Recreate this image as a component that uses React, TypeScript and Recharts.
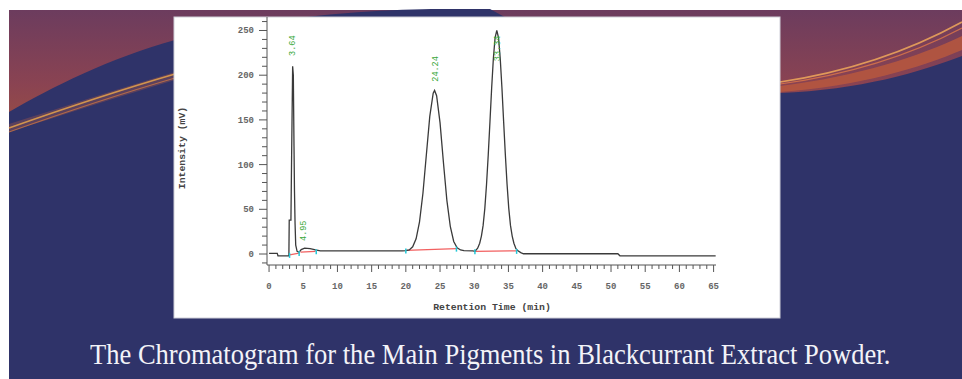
import React from "react";
import {
  ComposedChart,
  Line,
  Scatter,
  XAxis,
  YAxis,
  ReferenceLine,
} from "recharts";

// chromatogram trace: retention time (min) / intensity (mV)
const traceTime = [
  0, 1.2, 1.3, 2.9, 2.95, 3.2, 3.3, 3.45, 3.55, 3.65, 3.72, 3.8, 3.9, 4.1, 4.4, 4.7, 5.2, 6.0, 6.8, 7.5,
  12, 19.5, 20, 20.5, 21, 21.5, 22, 22.5, 23, 23.5, 24, 24.2, 24.5, 25, 25.5, 26, 26.5, 27, 27.5, 28,
  28.5, 29.8, 30.1, 30.5, 30.8, 31.05, 31.3, 31.55, 31.8, 32.05, 32.3, 32.55, 32.8, 33.05, 33.3, 33.55,
  33.8, 34.05, 34.3, 34.55, 34.8, 35.05, 35.3, 35.55, 35.8, 36.1, 36.4, 36.8, 37.2, 42, 51, 51.3, 65.3,
];
const traceValue = [
  0.7, 0.7, -2, -2, 38, 38, 110, 210, 200, 120, 70, 35, 10, 3, 2, 5, 6.5, 6, 4.5, 3.5,
  3.5, 3.5, 3.7, 4.5, 8, 17, 36, 68, 111, 154, 180, 183, 177, 147, 102, 60, 31, 14, 7, 4.5,
  3.7, 3.5, 3, 6.5, 12, 20, 32, 51, 78, 111, 148, 186, 219, 242, 250, 242,
  219, 186, 148, 111, 78, 51, 32, 20, 12, 6, 3.5, 1.5, 0.3, 0.3, 0.3, -2, -2,
];

// integration baselines (red) as [t1, v1, t2, v2]
const baselines = [
  [3.0, -1, 4.4, 1],
  [4.6, 2, 6.8, 3],
  [20.0, 4, 27.4, 6],
  [30.1, 3, 36.2, 3.5],
];

// peak start/end markers (cyan)
const markerTime = [3.0, 4.4, 6.9, 20.0, 27.4, 30.1, 36.2];
const markerValue = [-1, 1, 3, 4, 6, 3, 3.5];

// peak retention labels (green)
const peakTime = [3.4, 4.9, 24.2, 33.4];
const peakLabelY = [233, 26, 207, 230];
const peakLabels = ["3.64", "4.95", "24.24", "33.34"];

const yMajor = [0, 50, 100, 150, 200, 250];
const xMajor = [0, 5, 10, 15, 20, 25, 30, 35, 40, 45, 50, 55, 60, 65];

const yTicks: number[] = [];
for (let v = -10; v <= 260; v += 10) yTicks.push(v);
const xTicks: number[] = [];
for (let t = 0; t <= 65; t += 1) xTicks.push(t);

const trace = traceTime.map((t, i) => ({ t, v: traceValue[i] }));
const markers = markerTime.map((t, i) => ({ t, v: markerValue[i] }));
const peaks = peakTime.map((t, i) => ({ t, v: peakLabelY[i], label: peakLabels[i] }));

const axisFont = "'Liberation Mono', 'DejaVu Sans Mono', monospace";

const YTick = (props: any) => {
  const { x, y, payload } = props;
  const major = yMajor.includes(payload.value);
  return (
    <g>
      <line x1={x - (major ? 8 : 5)} x2={x} y1={y} y2={y} stroke="#555" strokeWidth={1} />
      {major && (
        <text x={x - 13} y={y} dy={3} textAnchor="end" fontSize={9} fontWeight="bold" fontFamily={axisFont} fill="#666">
          {payload.value}
        </text>
      )}
    </g>
  );
};

const XTick = (props: any) => {
  const { x, y, payload } = props;
  const major = xMajor.includes(payload.value);
  return (
    <g>
      <line x1={x} x2={x} y1={y} y2={y + (major ? 7 : 4)} stroke="#555" strokeWidth={1} />
      {major && (
        <text x={x} y={y + 24} textAnchor="middle" fontSize={9} fontWeight="bold" fontFamily={axisFont} fill="#666">
          {payload.value}
        </text>
      )}
    </g>
  );
};

const CyanTick = (props: any) => {
  const { cx, cy } = props;
  return <line x1={cx} x2={cx} y1={cy - 2} y2={cy + 3} stroke="#22c8d8" strokeWidth={1.5} />;
};

const PeakLabel = (props: any) => {
  const { cx, cy, payload } = props;
  return (
    <text
      x={cx}
      y={cy}
      dy={3}
      transform={`rotate(-90 ${cx} ${cy})`}
      textAnchor="middle"
      fontSize={8.5}
      fontFamily={axisFont}
      fill="#3aa83a"
    >
      {payload.label}
    </text>
  );
};

export default function App() {
  return (
    <div style={{ position: "fixed", left: 0, top: 0, width: 962, height: 379, background: "#fff", overflow: "hidden" }}>
      <svg width={962} height={379} style={{ position: "absolute", left: 0, top: 0 }}>
        <defs>
          <linearGradient id="slideTop" x1="0" y1="0" x2="0" y2="1">
            <stop offset="0" stopColor="#6c3c5e" />
            <stop offset="0.2" stopColor="#8a4352" />
            <stop offset="0.35" stopColor="#9c5040" />
            <stop offset="1" stopColor="#9c5040" />
          </linearGradient>
        </defs>
        <rect x={9} y={10} width={953} height={369} fill="url(#slideTop)" />
        <path
          d="M9,112 C50,88 110,58 175,40 C270,16 380,9 440,9 L490,9 C600,70 700,95 780,93 C860,90 920,72 962,56 L962,379 L9,379 Z"
          fill="#2f3369"
        />
        <path d="M9,124 C60,108 120,88 175,72 L175,80 C120,96 60,116 9,132 Z" fill="#7a4a55" opacity={0.6} />
        <path d="M9,128 C60,110 120,90 175,74" stroke="#e8a34a" strokeWidth={1.6} fill="none" opacity={0.85} />
        <path d="M9,132 C60,114 120,94 175,78" stroke="#d77a40" strokeWidth={1.2} fill="none" opacity={0.7} />
        <path d="M780,86 C860,76 920,56 962,36 L962,50 C920,68 860,86 780,92 Z" fill="#b5573f" opacity={0.9} />
        <path d="M780,82 C860,70 920,45 962,22" stroke="#f0a85a" strokeWidth={1.6} fill="none" opacity={0.85} />
        <path d="M780,84 C860,73 920,50 962,28" stroke="#e07848" strokeWidth={1.2} fill="none" opacity={0.8} />
        <rect x={174} y={17} width={606} height={301} fill="#fff" stroke="#cfcfd8" strokeWidth={1} />
      </svg>
      <div
        style={{
          position: "absolute",
          left: 90,
          top: 340,
          fontFamily: "'Liberation Serif', 'Times New Roman', serif",
          fontSize: 29,
          lineHeight: "29px",
          color: "#f3f3f8",
          whiteSpace: "nowrap",
          transform: "scaleX(0.915)",
          transformOrigin: "0 0",
        }}
      >
        The Chromatogram for the Main Pigments in Blackcurrant Extract Powder.
      </div>
      <div style={{ position: "absolute", left: 0, top: 0 }}>
        <ComposedChart
          width={962}
          height={379}
          data={trace}
          margin={{ top: 17, left: 227, right: 246, bottom: 84 }}
        >
          <XAxis
            dataKey="t"
            type="number"
            domain={[-0.3, 65.35]}
            ticks={xTicks}
            interval={0}
            tick={<XTick />}
            tickLine={false}
            tickSize={0}
            tickMargin={0}
            height={30}
            axisLine={{ stroke: "#555" }}
            allowDataOverflow
          />
          <YAxis
            type="number"
            domain={[-12.3, 265.1]}
            ticks={yTicks}
            interval={0}
            tick={<YTick />}
            tickLine={false}
            tickSize={0}
            tickMargin={0}
            width={40}
            axisLine={{ stroke: "#555" }}
            allowDataOverflow
          />
          {baselines.map((b, i) => (
            <ReferenceLine
              key={i}
              segment={[
                { x: b[0], y: b[1] },
                { x: b[2], y: b[3] },
              ]}
              stroke="#f26060"
              strokeWidth={1.3}
              ifOverflow="extendDomain"
            />
          ))}
          <Line
            dataKey="v"
            type="linear"
            stroke="#3a3a3a"
            strokeWidth={1.3}
            dot={false}
            isAnimationActive={false}
          />
          <Scatter data={markers} dataKey="v" shape={<CyanTick />} isAnimationActive={false} />
          <Scatter data={peaks} dataKey="v" shape={<PeakLabel />} isAnimationActive={false} />
        </ComposedChart>
      </div>
      <svg width={962} height={379} style={{ position: "absolute", left: 0, top: 0, pointerEvents: "none" }}>
        <text
          x={182}
          y={148}
          transform="rotate(-90 182 148)"
          textAnchor="middle"
          dy={3}
          fontFamily={axisFont}
          fontWeight="bold"
          fontSize={9.8}
          fill="#444"
        >
          Intensity (mV)
        </text>
        <text
          x={492}
          y={310}
          textAnchor="middle"
          fontFamily={axisFont}
          fontWeight="bold"
          fontSize={9.8}
          fill="#444"
        >
          Retention Time (min)
        </text>
      </svg>
    </div>
  );
}
